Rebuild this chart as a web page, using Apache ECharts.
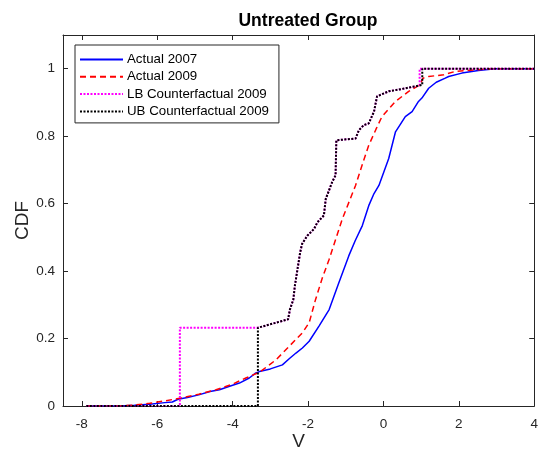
<!DOCTYPE html>
<html>
<head>
<meta charset="utf-8">
<title>Untreated Group</title>
<script src="https://cdn.jsdelivr.net/npm/echarts@6/dist/echarts.min.js"></script>
<style>
  html, body { margin: 0; padding: 0; background: #fff; }
  #chart { width: 541px; height: 460px; }
</style>
</head>
<body>
<div id="chart"></div>
<script>
// Empirical CDFs of V, as [v, cdf] pairs
const actual2007 = [
  [-7.88, 0], [-7.0, 0], [-6.6, 0.002], [-6.2, 0.005], [-5.8, 0.01], [-5.6, 0.012],
  [-5.45, 0.02], [-5.2, 0.025], [-4.9, 0.033], [-4.6, 0.043], [-4.35, 0.048],
  [-4.1, 0.058], [-3.82, 0.068], [-3.56, 0.083], [-3.4, 0.097], [-3.29, 0.102],
  [-3.0, 0.11], [-2.68, 0.122], [-2.5, 0.14], [-2.32, 0.157], [-2.15, 0.172],
  [-1.97, 0.192], [-1.71, 0.237], [-1.44, 0.286], [-1.2, 0.36], [-0.92, 0.445],
  [-0.75, 0.49], [-0.56, 0.535], [-0.39, 0.594], [-0.25, 0.63], [-0.12, 0.654],
  [0.14, 0.734], [0.32, 0.813], [0.58, 0.858], [0.76, 0.873], [0.93, 0.903],
  [1.02, 0.913], [1.2, 0.942], [1.4, 0.96], [1.64, 0.972], [1.73, 0.977],
  [2.08, 0.987], [2.52, 0.995], [2.96, 1.0], [4.0, 1.0]
];
const actual2009 = [
  [-7.88, 0], [-7.0, 0], [-6.6, 0.003], [-6.2, 0.008], [-5.8, 0.015], [-5.41, 0.023],
  [-4.9, 0.035], [-4.44, 0.048], [-4.0, 0.065], [-3.65, 0.083], [-3.29, 0.10],
  [-3.05, 0.12], [-2.85, 0.137], [-2.5, 0.177], [-2.15, 0.217], [-1.97, 0.247],
  [-1.80, 0.316], [-1.62, 0.38], [-1.44, 0.435], [-1.09, 0.555], [-0.74, 0.654],
  [-0.55, 0.72], [-0.39, 0.773], [-0.2, 0.82], [-0.04, 0.858], [0.32, 0.903],
  [0.67, 0.933], [0.93, 0.95], [1.0, 0.96], [1.05, 0.972], [1.2, 0.977],
  [1.6, 0.982], [1.9, 0.992], [2.5, 0.997], [2.9, 1.0], [4.0, 1.0]
];
const lbCounterfactual2009 = [
  [-7.88, 0], [-5.4, 0], [-5.4, 0.232], [-3.33, 0.232], [-2.53, 0.257],
  [-2.48, 0.286], [-2.39, 0.316], [-2.35, 0.356], [-2.21, 0.455], [-2.16, 0.48],
  [-2.02, 0.505], [-1.84, 0.525], [-1.75, 0.545], [-1.58, 0.565], [-1.53, 0.614],
  [-1.36, 0.664], [-1.27, 0.684], [-1.25, 0.788], [-0.74, 0.793], [-0.65, 0.818],
  [-0.52, 0.833], [-0.39, 0.838], [-0.25, 0.873], [-0.17, 0.918], [0.14, 0.933],
  [0.49, 0.94], [0.96, 0.95], [0.96, 1.0], [4.0, 1.0]
];
const ubCounterfactual2009 = [
  [-7.88, 0], [-3.33, 0], [-3.33, 0.232], [-2.53, 0.257],
  [-2.48, 0.286], [-2.39, 0.316], [-2.35, 0.356], [-2.21, 0.455], [-2.16, 0.48],
  [-2.02, 0.505], [-1.84, 0.525], [-1.75, 0.545], [-1.58, 0.565], [-1.53, 0.614],
  [-1.36, 0.664], [-1.27, 0.684], [-1.25, 0.788], [-0.74, 0.793], [-0.65, 0.818],
  [-0.52, 0.833], [-0.39, 0.838], [-0.25, 0.873], [-0.17, 0.918], [0.14, 0.933],
  [0.49, 0.94], [1.03, 0.952], [1.03, 1.0], [4.0, 1.0]
];
const xTicks = [-8, -6, -4, -2, 0, 2, 4];
const seriesNames = ['Actual 2007', 'Actual 2009', 'LB Counterfactual 2009', 'UB Counterfactual 2009'];

const FONT = '"Liberation Sans", Arial, Helvetica, sans-serif';
const AXIS_COLOR = '#262626';

const chart = echarts.init(document.getElementById('chart'), null, { renderer: 'canvas' });

// Boxed axes: labelled bottom/left, bare top/right, ticks pointing inward
function boxAxis(kind, position, withLabels) {
  const axis = {
    type: 'value',
    position: position,
    min: kind === 'x' ? -8.5 : 0,
    max: kind === 'x' ? 4 : 1.1,
    axisLine: { show: true, onZero: false, lineStyle: { color: AXIS_COLOR, width: 1 } },
    axisTick: { show: true, inside: true, length: 5, lineStyle: { color: AXIS_COLOR, width: 1 } },
    splitLine: { show: false },
    axisLabel: { show: withLabels, color: AXIS_COLOR, fontFamily: FONT, fontSize: 13.5 }
  };
  if (kind === 'x') {
    axis.axisTick.customValues = xTicks;
    axis.axisLabel.customValues = xTicks;
    axis.axisLabel.margin = 11;
  } else {
    axis.interval = 0.2;
    axis.axisLabel.showMaxLabel = false;
    axis.axisLabel.margin = 8;
  }
  return axis;
}

const xMain = boxAxis('x', 'bottom', true);
xMain.name = 'V';
xMain.nameLocation = 'middle';
xMain.nameMoveOverlap = false;
xMain.nameGap = 26;
xMain.nameTextStyle = { color: AXIS_COLOR, fontFamily: FONT, fontSize: 19 };
const yMain = boxAxis('y', 'left', true);
yMain.name = 'CDF';
yMain.nameLocation = 'middle';
yMain.nameMoveOverlap = false;
yMain.nameGap = 31;
yMain.nameTextStyle = { color: AXIS_COLOR, fontFamily: FONT, fontSize: 19 };

function lineSeries(name, data, color, type, width) {
  return {
    name: name,
    type: 'line',
    data: data,
    xAxisIndex: 0,
    yAxisIndex: 0,
    symbol: 'none',
    showSymbol: false,
    smooth: false,
    animation: false,
    lineStyle: { color: color, width: width, type: type },
    itemStyle: { color: color }
  };
}

chart.setOption({
  backgroundColor: '#ffffff',
  animation: false,
  title: {
    text: 'Untreated Group',
    left: 303,
    textAlign: 'center',
    top: 7,
    textStyle: { color: '#000', fontFamily: FONT, fontSize: 17.5, fontWeight: 'bold' }
  },
  grid: { left: 63, right: 5, top: 35, bottom: 54, containLabel: false },
  xAxis: [xMain, boxAxis('x', 'top', false)],
  yAxis: [yMain, boxAxis('y', 'right', false)],
  legend: {
    data: seriesNames,
    orient: 'vertical',
    left: 75,
    top: 45,
    itemWidth: 43,
    itemHeight: 10,
    itemGap: 4.3,
    padding: [8, 10, 5, 4],
    backgroundColor: '#ffffff',
    borderColor: AXIS_COLOR,
    borderWidth: 1,
    borderRadius: 0,
    selectedMode: false,
    itemStyle: { opacity: 0 },
    textStyle: { color: '#000', fontFamily: FONT, fontSize: 13.3, padding: [0, 0, 0, -1] }
  },
  series: [
    lineSeries(seriesNames[0], actual2007, '#0000ff', 'solid', 1.5),
    lineSeries(seriesNames[1], actual2009, '#ff0000', [6, 4], 1.5),
    lineSeries(seriesNames[2], lbCounterfactual2009, '#ff00ff', [2, 1.5], 2),
    lineSeries(seriesNames[3], ubCounterfactual2009, '#000000', [2, 1.5], 2)
  ]
});
</script>
</body>
</html>
